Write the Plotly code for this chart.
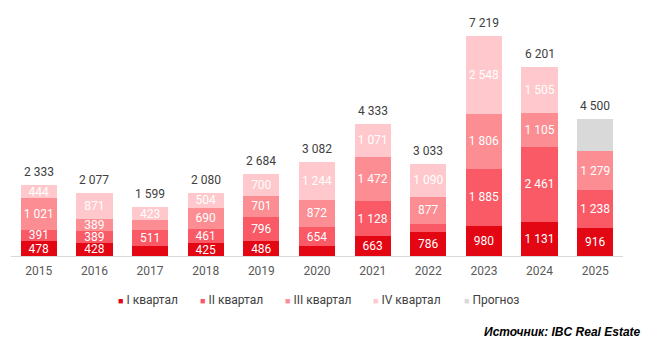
import plotly.graph_objects as go

years = ["2015", "2016", "2017", "2018", "2019", "2020", "2021", "2022", "2023", "2024", "2025"]
q1 = [478, 428, 340, 425, 486, 312, 663, 786, 980, 1131, 916]
q2 = [391, 389, 511, 461, 796, 654, 1128, 280, 1885, 2461, 1238]
q3 = [1021, 389, 325, 690, 701, 872, 1472, 877, 1806, 1105, 1279]
q4 = [444, 871, 423, 504, 700, 1244, 1071, 1090, 2548, 1505, 0]
forecast = [0, 0, 0, 0, 0, 0, 0, 0, 0, 0, 1067]
totals = [2333, 2077, 1599, 2080, 2684, 3082, 4333, 3033, 7219, 6201, 4500]
# segments whose value is not printed in the reference
hidden = {("q1", "2017"), ("q3", "2017"), ("q1", "2020"), ("q2", "2022")}

names = ["I квартал", "II квартал", "III квартал", "IV квартал", "Прогноз"]
colors = ["#E30613", "#F95A66", "#FB8D93", "#FFC8CC", "#D9D9D9"]


def fmt(v):
    return f"{v:,}".replace(",", " ")


fig = go.Figure()
series = [("q1", q1), ("q2", q2), ("q3", q3), ("q4", q4), ("fc", forecast)]
for (key, vals), name, col in zip(series, names, colors):
    txt = []
    for y, v in zip(years, vals):
        if v == 0 or key == "fc" or (key, y) in hidden:
            txt.append("")
        else:
            txt.append(fmt(v))
    fig.add_trace(go.Bar(
        x=years, y=vals, name=name, marker=dict(color=col, line=dict(width=0)),
        text=txt, textposition="inside", insidetextanchor="middle", textangle=0,
        textfont=dict(color="white", size=12, family="Roboto"),
        texttemplate="%{text}", hoverinfo="x+y+name", showlegend=False,
    ))

anns = []
for i, t in enumerate(totals):
    anns.append(dict(
        x=i, y=t, xref="x", yref="y", text=fmt(t), showarrow=False,
        yanchor="bottom", yshift=4,
        font=dict(color="#404040", size=12, family="Roboto"),
    ))

# legend drawn as annotations (small squares next to the labels)
L, W = 11, 612
leg_x = [116, 198, 283, 371, 462]
for px, name, col in zip(leg_x, names, colors):
    anns.append(dict(
        xref="paper", yref="paper", x=(px - L) / W, y=(343 - 300 - 87) / 246.0,
        xanchor="left", yanchor="middle", showarrow=False,
        text=f"<span style='color:{col};font-size:9px'>■</span> {name}",
        font=dict(size=12, color="#404040", family="Roboto"),
    ))
anns.append(dict(
    xref="paper", yref="paper", x=(643 - L) / W, y=(256 - 332) / 246.0,
    xanchor="right", yanchor="middle", showarrow=False,
    text="<b><i>Источник: IBC Real Estate</i></b>",
    font=dict(size=12, color="black", family="Liberation Sans, Arial"),
))

fig.update_layout(
    barmode="stack", bargap=0.35,
    width=651, height=343,
    margin=dict(l=11, r=28, t=10, b=87),
    paper_bgcolor="white", plot_bgcolor="white",
    separators=", ",
    uniformtext=dict(minsize=12, mode="show"),
    xaxis=dict(type="category", range=[-0.5, 10.5], showline=True, linecolor="#D9D9D9",
               linewidth=1, ticks="", ticklabelstandoff=4,
               tickfont=dict(size=12, color="#595959", family="Roboto"),
               showgrid=False),
    yaxis=dict(range=[0, 8070], visible=False, showgrid=False),
    annotations=anns,
    showlegend=False,
)

fig.write_html("out.html")
